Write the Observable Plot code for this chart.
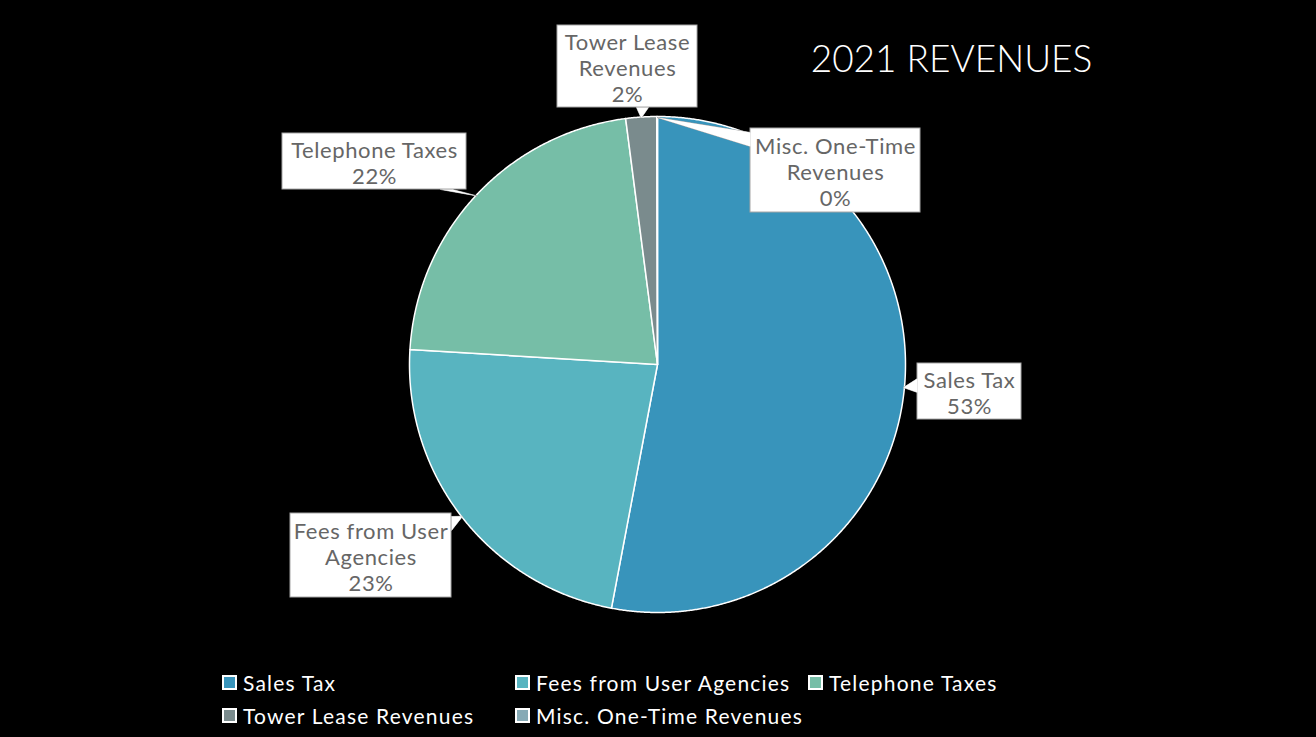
<!DOCTYPE html>
<html>
<head>
<meta charset="utf-8">
<script src="https://cdn.jsdelivr.net/npm/d3@7"></script>
<script src="https://cdn.jsdelivr.net/npm/@observablehq/plot@0.6"></script>
<style>
  html, body { margin: 0; padding: 0; background: #000; }
  #wrap { width: 1316px; height: 737px; background: #000; overflow: hidden; }
  #legend { width: 879px; margin-left: 222px; display: flex; flex-wrap: wrap; padding-top: 6px;
            font-family: Lato, "DejaVu Sans", sans-serif; font-size: 21px; letter-spacing: 1.2px; color: #fff; }
  .item { width: 293px; height: 33px; display: flex; align-items: center; white-space: nowrap; }
  .sw { width: 11px; height: 11px; border: 2px solid #fff; margin-right: 6px; box-sizing: content-box; }
  #chart g[font-size="22"] text { letter-spacing: 0.6px; }
</style>
</head>
<body>
<div id="wrap"><div id="chart"></div><div id="legend"></div></div>
<script>
// ---- data ----
const categories = ["Sales Tax", "Fees from User Agencies", "Telephone Taxes", "Tower Lease Revenues", "Misc. One-Time Revenues"];
const values = [53.0, 23.0, 22.0, 2.0, 0.05];
const labelLines = ["Sales Tax", "Fees from User\nAgencies", "Telephone Taxes", "Tower Lease\nRevenues", "Misc. One-Time\nRevenues"];
const colors = ["#3894bb", "#58b4c0", "#76bea7", "#7a8b8d", "#86aab5"];
const title = "2021 REVENUES";

// ---- layout (pixels) ----
const W = 1316, H = 660, CX = 657, CY = 364, R = 248;
const callouts = [
  {box: [917, 363, 1021, 419], base: [[917, 378], [917, 392]]},
  {box: [290, 513, 451, 597], base: [[451, 516], [451, 530]]},
  {box: [282, 133, 466, 189], base: [[440, 189], [452, 189]]},
  {box: [557, 25, 697, 107], base: [[636, 107], [648, 107]]},
  {box: [750, 128, 920, 212], base: [[750, 132], [750, 146]]}
];

const pie = d3.pie().sort(null).startAngle(0).endAngle(2 * Math.PI)(values);
const pt = (a, r) => [CX + r * Math.sin(a), CY - r * Math.cos(a)];

const slicePts = [];
pie.forEach((d, i) => {
  const name = categories[i];
  slicePts.push({name, x: CX, y: CY});
  const n = Math.max(2, Math.ceil((d.endAngle - d.startAngle) / 0.005));
  for (let k = 0; k <= n; k++) {
    const a = d.startAngle + (d.endAngle - d.startAngle) * k / n;
    const [x, y] = pt(a, R);
    slicePts.push({name, x, y});
  }
  slicePts.push({name, x: CX, y: CY});
});

const total = d3.sum(values);
const pointers = [];
const boxes = [];
const texts = [];
pie.forEach((d, i) => {
  const c = callouts[i];
  const mid = (d.startAngle + d.endAngle) / 2;
  const [tx, ty] = pt(mid, R - 1);
  const id = categories[i];
  pointers.push({id, x: c.base[0][0], y: c.base[0][1]});
  pointers.push({id, x: tx, y: ty});
  pointers.push({id, x: c.base[1][0], y: c.base[1][1]});
  boxes.push({x1: c.box[0], y1: c.box[1], x2: c.box[2], y2: c.box[3]});
  texts.push({x: (c.box[0] + c.box[2]) / 2, y: (c.box[1] + c.box[3]) / 2 + 1,
              text: labelLines[i] + "\n" + Math.round(values[i] / total * 100) + "%"});
});

const chart = Plot.plot({
  width: W, height: H, margin: 0,
  x: {domain: [0, W], range: [0, W], axis: null},
  y: {domain: [0, H], range: [0, H], axis: null},
  color: {domain: categories, range: colors},
  style: {background: "#000"},
  marks: [
    Plot.line(slicePts, {x: "x", y: "y", z: "name", fill: "name", stroke: "#fff", strokeWidth: 1.5, strokeLinejoin: "round", curve: "linear"}),
    Plot.line(pointers, {x: "x", y: "y", z: "id", fill: "#fff", stroke: "#a6a6a6", strokeWidth: 1}),
    Plot.rect(boxes, {x1: "x1", y1: "y1", x2: "x2", y2: "y2", fill: "#fff", stroke: "#a6a6a6", strokeWidth: 1}),
    Plot.line(pointers, {x: "x", y: "y", z: "id", fill: "#fff", stroke: "none"}),
    Plot.text(texts, {x: "x", y: "y", text: "text", fill: "#666", fontSize: 22, lineHeight: 1.18, lineAnchor: "middle", fontFamily: "Lato, 'DejaVu Sans', sans-serif"}),
    Plot.text([title], {x: () => 951, y: () => 60, text: d => d, fill: "#fff", fontSize: 37, fontWeight: 300, fontFamily: "Lato, 'DejaVu Sans', sans-serif"})
  ]
});
document.getElementById("chart").appendChild(chart);

const legend = document.getElementById("legend");
categories.forEach((c, i) => {
  const item = document.createElement("div");
  item.className = "item";
  const sw = document.createElement("span");
  sw.className = "sw";
  sw.style.background = colors[i];
  const t = document.createElement("span");
  t.textContent = c;
  item.appendChild(sw);
  item.appendChild(t);
  legend.appendChild(item);
});
</script>
</body>
</html>
